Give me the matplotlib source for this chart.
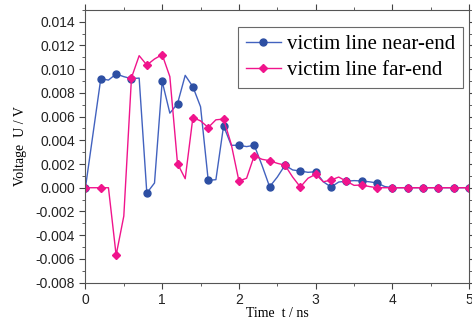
import numpy as np
from matplotlib import pyplot as plt
from matplotlib.ticker import MultipleLocator

# time samples, ns (markers on every second one)
t = [0.0, 0.1, 0.2, 0.3, 0.4, 0.5, 0.6, 0.7, 0.8, 0.9,
     1.0, 1.1, 1.2, 1.3, 1.4, 1.5, 1.6, 1.7, 1.8, 1.9,
     2.0, 2.1, 2.2, 2.3, 2.4, 2.5, 2.6, 2.7, 2.8, 2.9,
     3.0, 3.1, 3.2, 3.3, 3.4, 3.5, 3.6, 3.7, 3.8, 3.9,
     4.0, 4.1, 4.2, 4.3, 4.4, 4.5, 4.6, 4.7, 4.8, 4.9, 5.0]

near_end = [0.0, 4.6, 9.2, 9.08, 9.6, 9.37, 9.2, 9.25, -0.45, 0.4,
            8.97, 6.29, 7.1, 9.48, 8.52, 6.83, 0.62, 0.68, 5.22, 3.58,
            3.58, 3.47, 3.58, 1.9, 0.08, 0.9, 1.9, 1.5, 1.41, 1.3,
            1.35, 0.5, 0.06, 0.48, 0.55, 0.6, 0.57, 0.5, 0.4, 0.1,
            0.0, 0.0, 0.0, 0.0, 0.0, 0.0, 0.0, 0.0, 0.0, 0.0, 0.0]

far_end = [0.0, 0.0, 0.0, 0.0, -5.69, -2.39, 9.28, 11.14, 10.35, 10.86,
           11.23, 9.37, 2.03, 0.76, 5.92, 5.64, 5.08, 5.73, 5.79, 3.67,
           0.57, 0.8, 2.71, 2.4, 2.28, 2.06, 1.9, 0.9, 0.06, 0.8,
           1.13, 0.5, 0.65, 0.9, 0.55, 0.2, 0.23, 0.1, 0.0, 0.0,
           0.0, 0.0, 0.0, 0.0, 0.0, 0.0, 0.0, 0.0, 0.0, 0.0, 0.0]

t = np.array(t)
near_end = np.array(near_end) / 1000
far_end = np.array(far_end) / 1000

fig = plt.figure(figsize=(4.72, 3.2), dpi=100)
ax = fig.add_axes([0.181, 0.117, 0.813, 0.852])

ax.plot(t, near_end, color="#4262bf", lw=1.0, marker="o", markevery=2,
        ms=5, mfc="#2d4fa3", mec="#2d4fa3", label="victim line near-end")
ax.plot(t, far_end, color="#f0148c", lw=1.0, marker="D", markevery=2,
        ms=4.5, mfc="#f0148c", mec="#f0148c", label="victim line far-end")

ax.set_xlim(0, 5)
ax.set_ylim(-0.008, 0.015)
ax.set_xticks([0, 1, 2, 3, 4, 5])
ax.set_yticks(np.arange(-0.008, 0.0141, 0.002))
ax.xaxis.set_minor_locator(MultipleLocator(0.5))
ax.yaxis.set_minor_locator(MultipleLocator(0.001))
ax.set_yticklabels(["%.3f" % v for v in np.arange(-0.008, 0.0141, 0.002)])
ax.tick_params(which="both", direction="out", top=True, right=True,
               labelsize=10, color="#444444", labelcolor="#222222")
ax.tick_params(which="major", length=4)
ax.tick_params(which="minor", length=2.5)
for lbl in ax.get_xticklabels() + ax.get_yticklabels():
    lbl.set_family("Liberation Sans")
for s in ax.spines.values():
    s.set_color("#555555")

ax.set_xlabel("Time  t / ns", family="Liberation Serif", fontsize=10, labelpad=0)
ax.set_ylabel("Voltage  U / V", family="Liberation Serif", fontsize=10, labelpad=6)

leg = ax.legend(loc="upper right", bbox_to_anchor=(0.985, 0.938),
                prop={"family": "Liberation Serif", "size": 15},
                frameon=True, fancybox=False, handlelength=1.7,
                borderpad=0.38, labelspacing=0.3, handletextpad=0.3,
                borderaxespad=0)
leg.get_frame().set_edgecolor("#444444")
leg.get_frame().set_linewidth(0.8)

fig.savefig("out.png", dpi=100)
